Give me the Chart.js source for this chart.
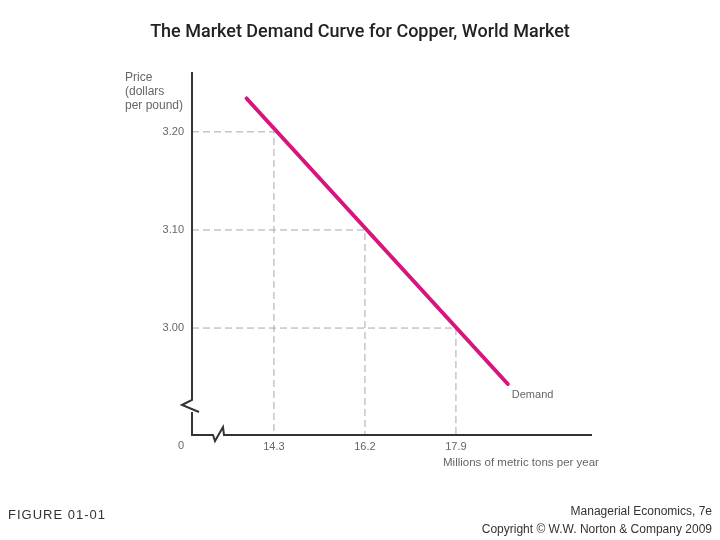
<!DOCTYPE html>
<html>
<head>
<meta charset="utf-8">
<script src="https://cdn.jsdelivr.net/npm/chart.js@4/dist/chart.umd.min.js"></script>
<style>
  html, body { margin: 0; padding: 0; background: #fff; }
  #wrap { position: relative; width: 720px; height: 540px; }
  #chart { position: absolute; left: 0; top: 0; }
  .title { position: absolute; left: 0; width: 720px; top: 20px; text-align: center;
    font: 500 18px Roboto, sans-serif; color: #222; }
  .foot { position: absolute; font: 12px "Liberation Sans", Arial, sans-serif; color: #333; }
</style>
</head>
<body>
<div id="wrap">
  <canvas id="chart" width="720" height="540"></canvas>
  <div class="title">The Market Demand Curve for Copper, World Market</div>
  <div class="foot" style="left:8px; top:507px; font-size:13px; letter-spacing:1px;">FIGURE 01-01</div>
  <div class="foot" style="right:8px; top:502px; text-align:right; line-height:18px;">Managerial Economics, 7e<br>Copyright © W.W. Norton &amp; Company 2009</div>
</div>
<script>
// quantities shown on the (broken) x axis, evenly spaced
const quantities = ['14.3', '16.2', '17.9'];
const qtyPos = [1, 2, 3];
const prices = [3.20, 3.10, 3.00];
// demand curve ends, in axis units
const demandX = [0.70, 3.57];
const demandY = [3.234, 2.943];

const xMin = 0.1, xMax = 4.495;
const yMin = 2.891, yMax = 3.261;

const datasets = [{
  label: 'Demand',
  data: demandX.map((x, i) => ({x, y: demandY[i]})),
  borderColor: 'rgb(214, 22, 124)',
  borderWidth: 4,
  pointRadius: 0,
  borderCapStyle: 'round'
}];
prices.forEach((p, i) => {
  datasets.push({
    data: [{x: xMin, y: p}, {x: qtyPos[i], y: p}, {x: qtyPos[i], y: yMin}],
    borderColor: '#a8a8a8',
    borderWidth: 1,
    borderDash: [7, 4],
    pointRadius: 0
  });
});

const extras = {
  id: 'extras',
  afterDatasetsDraw(chart) {
    const {ctx, chartArea: a, scales: {x, y}} = chart;
    ctx.save();
    // axes with break marks
    ctx.strokeStyle = '#333';
    ctx.lineWidth = 2;
    ctx.beginPath();
    ctx.moveTo(a.left, a.top);
    ctx.lineTo(a.left, 400);
    ctx.lineTo(a.left - 10, 405);
    ctx.lineTo(a.left + 7, 412);
    ctx.moveTo(a.left, 412);
    ctx.lineTo(a.left, a.bottom);
    ctx.lineTo(a.left + 21, a.bottom);
    ctx.lineTo(a.left + 23, a.bottom + 6);
    ctx.lineTo(a.left + 31, a.bottom - 8);
    ctx.lineTo(a.left + 32, a.bottom);
    ctx.lineTo(a.right, a.bottom);
    ctx.stroke();

    ctx.fillStyle = '#666';
    ctx.font = '11px "Liberation Sans", Arial, sans-serif';
    ctx.textBaseline = 'middle';
    ctx.textAlign = 'right';
    ctx.fillText('0', a.left - 8, a.bottom + 11);
    ctx.textAlign = 'left';
    ctx.font = '12px "Liberation Sans", Arial, sans-serif';
    ['Price', '(dollars', 'per pound)'].forEach((t, i) => ctx.fillText(t, 125, 78 + i * 14));
    ctx.font = '11.5px "Liberation Sans", Arial, sans-serif';
    ctx.fillText('Millions of metric tons per year', 443, a.bottom + 28);
    const ex = x.getPixelForValue(demandX[1]);
    const ey = y.getPixelForValue(demandY[1]);
    ctx.font = '11px "Liberation Sans", Arial, sans-serif';
    ctx.fillText('Demand', ex + 4, ey + 11);
    ctx.restore();
  }
};

new Chart(document.getElementById('chart').getContext('2d'), {
  type: 'line',
  data: {datasets},
  options: {
    responsive: false,
    animation: false,
    layout: {padding: {top: 72, right: 128, bottom: 0, left: 0}},
    plugins: {legend: {display: false}, tooltip: {enabled: false}},
    scales: {
      x: {
        type: 'linear', min: xMin, max: xMax,
        grid: {display: false, drawTicks: false},
        border: {display: false},
        afterBuildTicks: s => { s.ticks = qtyPos.map(v => ({value: v})); },
        afterFit: s => { s.height = 105; },
        ticks: {
          padding: 5, color: '#666', maxRotation: 0, autoSkip: false,
          font: {family: '"Liberation Sans", Arial, sans-serif', size: 11},
          callback: v => quantities[qtyPos.indexOf(v)]
        }
      },
      y: {
        type: 'linear', min: yMin, max: yMax,
        grid: {display: false, drawTicks: false},
        border: {display: false},
        afterBuildTicks: s => { s.ticks = prices.map(v => ({value: v})); },
        afterFit: s => { s.width = 192; },
        ticks: {
          padding: 8, color: '#666', autoSkip: false,
          font: {family: '"Liberation Sans", Arial, sans-serif', size: 11},
          callback: v => v.toFixed(2)
        }
      }
    }
  },
  plugins: [extras]
});
</script>
</body>
</html>
